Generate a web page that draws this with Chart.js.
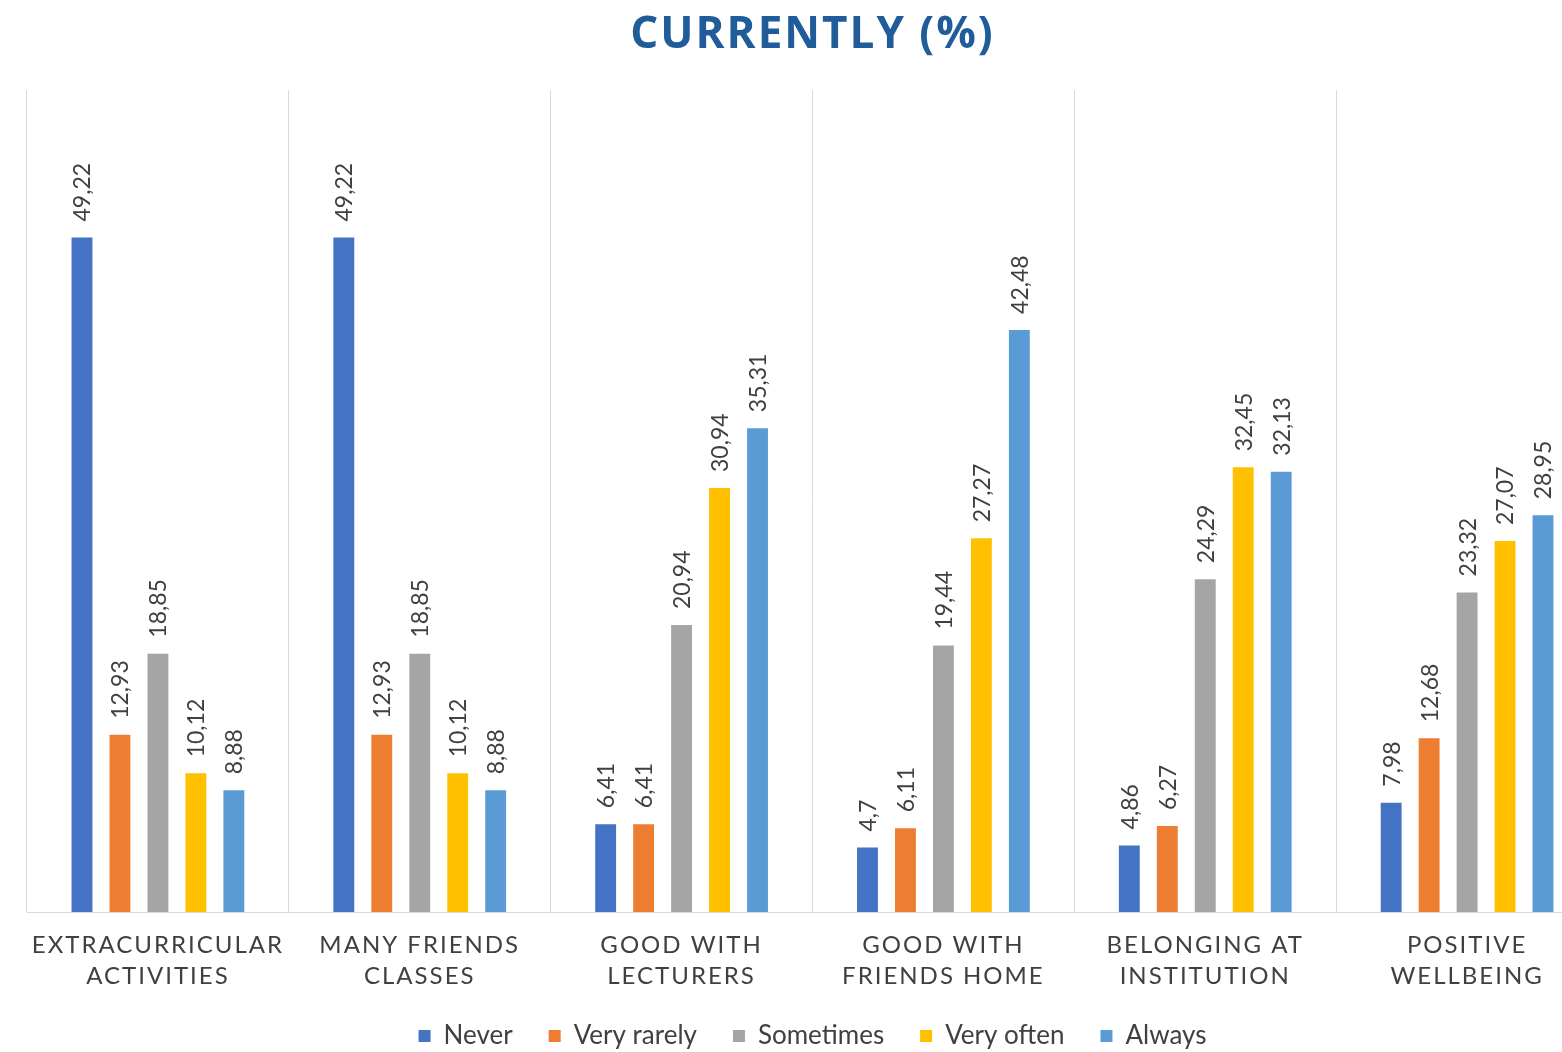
<!DOCTYPE html>
<html>
<head>
<meta charset="utf-8">
<script src="https://cdn.jsdelivr.net/npm/chart.js@4.4.1/dist/chart.umd.min.js"></script>
<style>
  html, body { margin: 0; padding: 0; background: #ffffff; overflow: hidden; }
  #wrap { width: 1624px; height: 1052px; }
</style>
</head>
<body>
<div id="wrap"><canvas id="c" width="1624" height="1052"></canvas></div>
<script>
const categories = [
  ['EXTRACURRICULAR', 'ACTIVITIES'],
  ['MANY FRIENDS', 'CLASSES'],
  ['GOOD WITH', 'LECTURERS'],
  ['GOOD WITH', 'FRIENDS HOME'],
  ['BELONGING AT', 'INSTITUTION'],
  ['POSITIVE', 'WELLBEING']
];
const seriesNames = ['Never', 'Very rarely', 'Sometimes', 'Very often', 'Always'];
const never      = [49.22, 49.22, 6.41, 4.7, 4.86, 7.98];
const veryRarely = [12.93, 12.93, 6.41, 6.11, 6.27, 12.68];
const sometimes  = [18.85, 18.85, 20.94, 19.44, 24.29, 23.32];
const veryOften  = [10.12, 10.12, 30.94, 27.27, 32.45, 27.07];
const always     = [8.88, 8.88, 35.31, 42.48, 32.13, 28.95];
const seriesColors = ['#4472C4', '#ED7D31', '#A5A5A5', '#FFC000', '#5B9BD5'];
const seriesValues = [never, veryRarely, sometimes, veryOften, always];

function wrapSpacing(obj, method, spacing) {
  if (!obj || obj['_ls_' + method]) return;
  const orig = obj[method];
  obj[method] = function () {
    const c = this.ctx;
    const prev = c.letterSpacing;
    c.letterSpacing = spacing;
    const r = orig.apply(this, arguments);
    c.letterSpacing = prev;
    return r;
  };
  obj['_ls_' + method] = true;
}

const spacingPlugin = {
  id: 'spacing',
  beforeDraw(chart) {
    const xs = chart.scales.x;
    if (xs) xs._computeLabelArea = function () { return undefined; };
    wrapSpacing(xs, 'drawLabels', '2px');
    wrapSpacing(chart.titleBlock, 'draw', '2px');
  }
};

const valueLabels = {
  id: 'valueLabels',
  afterDatasetsDraw(chart) {
    const ctx = chart.ctx;
    ctx.save();
    ctx.font = '23px Lato';
    ctx.fillStyle = '#404040';
    ctx.textAlign = 'left';
    ctx.textBaseline = 'middle';
    chart.data.datasets.forEach((ds, di) => {
      const meta = chart.getDatasetMeta(di);
      meta.data.forEach((el, i) => {
        const txt = String(ds.data[i]).replace('.', ',');
        ctx.save();
        ctx.translate(el.x + 1, el.y - 16);
        ctx.rotate(-Math.PI / 2);
        ctx.fillText(txt, 0, 0);
        ctx.restore();
      });
    });
    ctx.restore();
  }
};

new Chart(document.getElementById('c'), {
  type: 'bar',
  data: {
    labels: categories,
    datasets: seriesNames.map((n, i) => ({
      label: n,
      data: seriesValues[i],
      backgroundColor: seriesColors[i],
      borderWidth: 0,
      categoryPercentage: 0.725,
      barPercentage: 0.55
    }))
  },
  options: {
    responsive: false,
    animation: false,
    devicePixelRatio: 1,
    layout: { padding: { left: 27, right: 26, top: 0, bottom: -7 } },
    plugins: {
      title: {
        display: true,
        text: 'CURRENTLY (%)',
        color: '#1F5C99',
        font: { family: 'Open Sans', size: 44, weight: 'bold', lineHeight: 1.2 },
        padding: { top: 9, bottom: 28 }
      },
      legend: {
        position: 'bottom',
        labels: {
          color: '#404040',
          font: { family: 'Lato', size: 26 },
          boxWidth: 12,
          boxHeight: 12,
          padding: 36
        }
      },
      tooltip: { enabled: false }
    },
    scales: {
      x: {
        grid: { display: true, offset: true, color: '#D9D9D9', drawTicks: false },
        border: { display: true, color: '#D9D9D9' },
        ticks: {
          color: '#404040',
          font: { family: 'Lato', size: 24, lineHeight: 1.29 },
          padding: 18,
          maxRotation: 0,
          minRotation: 0,
          autoSkip: false
        },
        afterFit(scale) { scale.height = 75; }
      },
      y: {
        display: false,
        min: 0,
        max: 60
      }
    }
  },
  plugins: [spacingPlugin, valueLabels]
});
</script>
</body>
</html>
